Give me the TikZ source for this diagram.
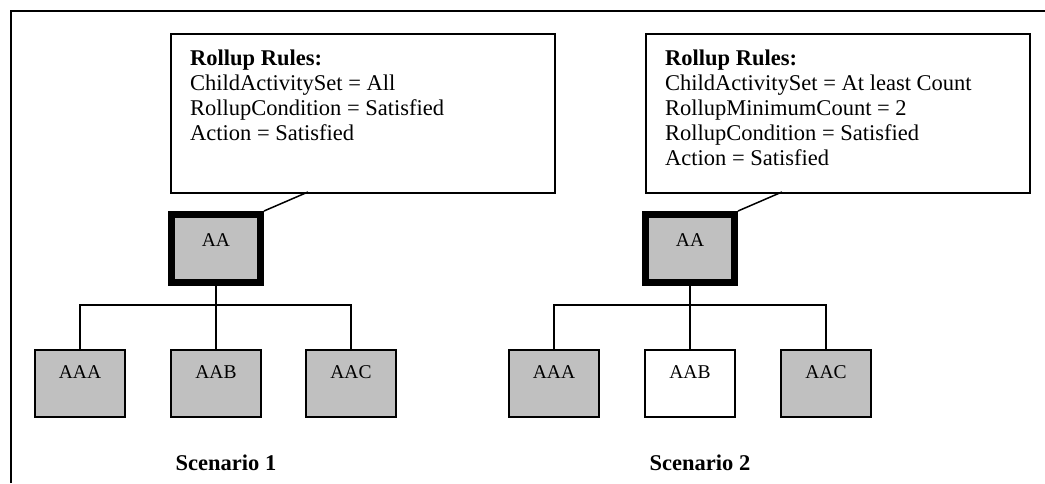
\documentclass[tikz,border=0pt]{standalone}
\usepackage{fontspec}
\setmainfont{Liberation Serif}
\definecolor{boxgray}{HTML}{C0C0C0}
\begin{document}
\begin{tikzpicture}[x=1pt,y=-1pt,
  frameline/.style={line width=2pt},
  rulebox/.style={draw, line width=1.8pt, fill=white, minimum width=384pt, minimum height=159pt, anchor=north west, inner sep=0pt},
  ruletext/.style={anchor=north west, inner sep=0pt, align=left, font=\fontsize{22.5}{25}\selectfont},
  parentbox/.style={draw, line width=7pt, fill=boxgray, minimum width=89pt, minimum height=68pt, inner sep=0pt,
    font=\fontsize{19.5}{22}\selectfont, text height=14pt, text depth=19pt},
  childbox/.style={draw, line width=2pt, fill=boxgray, minimum width=90pt, minimum height=67pt, inner sep=0pt,
    font=\fontsize{19.5}{22}\selectfont, text height=14pt, text depth=25pt},
  emptychild/.style={childbox, fill=white},
  link/.style={line width=1.5pt},
  caption/.style={anchor=base, inner sep=0pt, font=\fontsize{22.5}{25}\selectfont\bfseries}
]
\useasboundingbox (0,0) rectangle (1045,483);

% outer frame (top and left edges)
\draw[frameline] (11,483) -- (11,10.5) -- (1045,10.5);

% ---------- Scenario 1 ----------
\node[rulebox] (r1) at (170,33) {};
\node[ruletext] (t1) at (190,50) {\textbf{Rollup Rules:}\\ChildActivitySet = All\\RollupCondition = Satisfied\\Action = Satisfied};

\node[parentbox] (aa1) at (216,248.5) {AA};
\node[childbox] (aaa1) at (80,383.5) {AAA};
\node[childbox] (aab1) at (216,383.5) {AAB};
\node[childbox] (aac1) at (351,383.5) {AAC};

\coordinate (c1) at (308,192);
\coordinate (bus1) at (216,305);
\draw[link] (aa1.north east) -- (c1);
\draw[link] (aa1.south) -- (aab1.north);
\draw[link] (aaa1.north) |- (bus1) -| (aac1.north);

\node[caption] (s1) at (226,470) {Scenario 1};

% ---------- Scenario 2 ----------
\node[rulebox] (r2) at (645,33) {};
\node[ruletext] (t2) at (665,50) {\textbf{Rollup Rules:}\\ChildActivitySet = At least Count\\RollupMinimumCount = 2\\RollupCondition = Satisfied\\Action = Satisfied};

\node[parentbox] (aa2) at (690,248.5) {AA};
\node[childbox] (aaa2) at (554,383.5) {AAA};
\node[emptychild] (aab2) at (690,383.5) {AAB};
\node[childbox] (aac2) at (826,383.5) {AAC};

\coordinate (c2) at (782,192);
\coordinate (bus2) at (690,305);
\draw[link] (aa2.north east) -- (c2);
\draw[link] (aa2.south) -- (aab2.north);
\draw[link] (aaa2.north) |- (bus2) -| (aac2.north);

\node[caption] (s2) at (700,470) {Scenario 2};
\end{tikzpicture}
\end{document}
